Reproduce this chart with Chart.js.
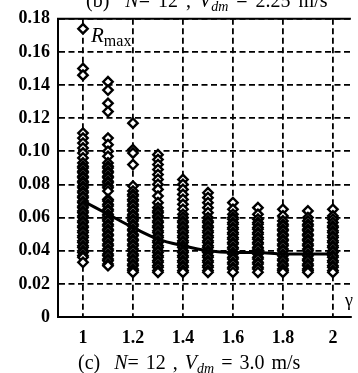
<!DOCTYPE html>
<html>
<head>
<meta charset="utf-8">
<script src="https://cdn.jsdelivr.net/npm/chart.js@4.4.0/dist/chart.umd.min.js"></script>
<style>
  html, body { margin: 0; padding: 0; background: #fff; }
  #wrap { position: relative; width: 358px; height: 373px; overflow: hidden;
          font-family: "Liberation Serif", "Times New Roman", serif; color: #000; }
  canvas { position: absolute; left: 0; top: 0; }
  .lbl { position: absolute; white-space: nowrap; line-height: 1; }
  .lbl sub { font-size: 70%; vertical-align: -0.3em; line-height: 0; }
</style>
</head>
<body>
<div id="wrap">
  <canvas id="chart" width="358" height="373"></canvas>
  <div class="lbl" style="left:86px; top:-10px; font-size:20px; word-spacing:3px;">(b)&nbsp; <i>N</i>= 12 , <i>V<sub>dm</sub></i> = 2.25 m/s</div>
  <div class="lbl" style="left:91px; top:25px; font-size:21px;"><i>R</i><span style="font-size:16px; position:relative; top:4px;">max</span></div>
  <div class="lbl" style="left:345px; top:291px; font-size:18px;">γ</div>
  <div class="lbl" style="left:78px; top:352px; font-size:20px; word-spacing:2px;">(c)&nbsp; <i>N</i>= 12 , <i>V<sub>dm</sub></i> = 3.0 m/s</div>
</div>

<script>
// gamma values on the x axis
const gammas = [1.0, 1.1, 1.2, 1.3, 1.4, 1.5, 1.6, 1.7, 1.8, 1.9, 2.0];
const xTicks = [1, 1.2, 1.4, 1.6, 1.8, 2];
const yTicks = [0, 0.02, 0.04, 0.06, 0.08, 0.10, 0.12, 0.14, 0.16, 0.18];

// R_max samples, one list per gamma (dense parts are packed tight)
const r10 = [0.174, 0.150, 0.146, 0.111, 0.108, 0.105, 0.102, 0.099, 0.096, 0.093,
             0.091, 0.090, 0.088, 0.087, 0.085, 0.084, 0.082, 0.081, 0.079, 0.078, 0.076, 0.075, 0.073, 0.072,
             0.070, 0.069, 0.067, 0.066, 0.064, 0.063, 0.061, 0.060, 0.058, 0.057, 0.055, 0.054, 0.052, 0.051,
             0.049, 0.048, 0.046, 0.045, 0.043, 0.042, 0.040, 0.039, 0.037, 0.036, 0.033];
const r11 = [0.142, 0.137, 0.129, 0.124, 0.108, 0.104, 0.100, 0.097,
             0.093, 0.091, 0.090, 0.088, 0.087, 0.085, 0.084, 0.082, 0.081, 0.079, 0.078, 0.076,
             0.071, 0.070, 0.068, 0.067, 0.065, 0.064, 0.062, 0.061, 0.059, 0.058, 0.056, 0.055, 0.053, 0.052,
             0.050, 0.049, 0.047, 0.046, 0.044, 0.043, 0.041, 0.040, 0.038, 0.037, 0.035, 0.034, 0.032, 0.031];
const r12 = [0.117, 0.101, 0.099, 0.092, 0.079, 0.076, 0.074, 0.073, 0.071, 0.070, 0.068, 0.067, 0.065, 0.064,
             0.062, 0.061, 0.059, 0.058, 0.056, 0.055, 0.053, 0.052, 0.050, 0.049, 0.047, 0.046, 0.044, 0.043,
             0.041, 0.040, 0.038, 0.037, 0.035, 0.034, 0.032, 0.031, 0.029, 0.028, 0.027];
const r13 = [0.098, 0.095, 0.092, 0.089, 0.086, 0.083, 0.080, 0.077, 0.073, 0.069, 0.066, 0.064, 0.063, 0.061,
             0.060, 0.058, 0.057, 0.055, 0.054, 0.052, 0.051, 0.049, 0.048, 0.046, 0.045, 0.043, 0.042, 0.040,
             0.039, 0.037, 0.036, 0.034, 0.033, 0.031, 0.030, 0.028, 0.027];
const r14 = [0.083, 0.080, 0.077, 0.074, 0.071, 0.068, 0.065, 0.062, 0.060, 0.058, 0.057, 0.055, 0.054, 0.052,
             0.051, 0.049, 0.048, 0.046, 0.045, 0.043, 0.042, 0.040, 0.039, 0.037, 0.036, 0.034, 0.033, 0.031,
             0.030, 0.028, 0.027];
const r15 = [0.075, 0.072, 0.069, 0.066, 0.063, 0.060, 0.058, 0.057, 0.055, 0.054, 0.052, 0.051, 0.049, 0.048,
             0.046, 0.045, 0.043, 0.042, 0.040, 0.039, 0.037, 0.036, 0.034, 0.033, 0.031, 0.030, 0.028, 0.027];
const r16 = [0.069, 0.065, 0.062, 0.060, 0.059, 0.057, 0.056, 0.054, 0.053, 0.051, 0.050, 0.048, 0.047, 0.045,
             0.044, 0.042, 0.041, 0.039, 0.038, 0.036, 0.035, 0.033, 0.032, 0.030, 0.029, 0.027];
const r17 = [0.066, 0.062, 0.059, 0.057, 0.056, 0.054, 0.053, 0.051, 0.050, 0.048, 0.047, 0.045, 0.044, 0.042,
             0.041, 0.039, 0.038, 0.036, 0.035, 0.033, 0.032, 0.030, 0.029, 0.027];
const r18 = [0.065, 0.061, 0.058, 0.056, 0.055, 0.053, 0.052, 0.050, 0.049, 0.047, 0.046, 0.044, 0.043, 0.041,
             0.040, 0.038, 0.037, 0.035, 0.034, 0.032, 0.031, 0.029, 0.028, 0.027];
const r19 = [0.064, 0.060, 0.058, 0.056, 0.055, 0.053, 0.052, 0.050, 0.049, 0.047, 0.046, 0.044, 0.043, 0.041,
             0.040, 0.038, 0.037, 0.035, 0.034, 0.032, 0.031, 0.029, 0.028, 0.027];
const r20 = [0.065, 0.061, 0.059, 0.057, 0.055, 0.054, 0.052, 0.051, 0.049, 0.048, 0.046, 0.045, 0.043, 0.042,
             0.040, 0.039, 0.037, 0.036, 0.034, 0.033, 0.031, 0.030, 0.028, 0.027];

// mean curve
const rMean = [0.070, 0.062, 0.054, 0.047, 0.043, 0.040, 0.039, 0.039, 0.038, 0.038, 0.038];

const columns = [r10, r11, r12, r13, r14, r15, r16, r17, r18, r19, r20];
const scatterPts = [];
columns.forEach((col, i) => {
  col.forEach(v => scatterPts.push({ x: gammas[i], y: v }));
});

// solid top edge of the frame
const frameTop = {
  id: 'frameTop',
  afterDraw(chart) {
    const { ctx, chartArea: a } = chart;
    ctx.save();
    ctx.strokeStyle = '#000';
    ctx.lineWidth = 2;
    ctx.beginPath();
    ctx.moveTo(a.left - 1, a.top);
    ctx.lineTo(a.right, a.top);
    ctx.stroke();
    ctx.restore();
  }
};

const tickFont = { family: 'Liberation Serif', size: 18, weight: 'bold' };

new Chart(document.getElementById('chart'), {
  type: 'scatter',
  data: {
    datasets: [{
      type: 'line',
      data: gammas.map((g, i) => ({ x: g, y: rMean[i] })),
      borderColor: '#000',
      borderWidth: 3,
      pointRadius: 0,
      cubicInterpolationMode: 'monotone',
      fill: false,
      order: 0
    }, {
      data: scatterPts,
      pointStyle: 'rectRot',
      pointRadius: 4.7,
      borderWidth: 2.4,
      borderColor: '#000',
      backgroundColor: '#fff',
      order: 1
    }]
  },
  options: {
    responsive: false,
    animation: false,
    layout: { padding: { top: 15, right: 0, left: 0, bottom: 0 } },
    plugins: { legend: { display: false }, tooltip: { enabled: false } },
    scales: {
      x: {
        type: 'linear',
        min: 0.9,
        max: 2.072,
        afterBuildTicks: s => { s.ticks = xTicks.map(v => ({ value: v })); },
        afterFit: s => { s.height = 56; },
        ticks: { color: '#000', font: tickFont, padding: 11, callback: v => String(v) },
        grid: { color: '#000', lineWidth: 1.8, drawTicks: false },
        border: { color: '#000', width: 2, dash: [6, 3.5] }
      },
      y: {
        min: 0,
        max: 0.18,
        afterBuildTicks: s => { s.ticks = yTicks.map(v => ({ value: v })); },
        afterFit: s => { s.width = 58; },
        ticks: { color: '#000', font: tickFont, padding: 8, callback: v => v === 0 ? '0' : v.toFixed(2) },
        grid: { color: '#000', lineWidth: 1.8, drawTicks: false },
        border: { color: '#000', width: 2, dash: [6, 3.5] }
      }
    }
  },
  plugins: [frameTop]
});
</script>
</body>
</html>
